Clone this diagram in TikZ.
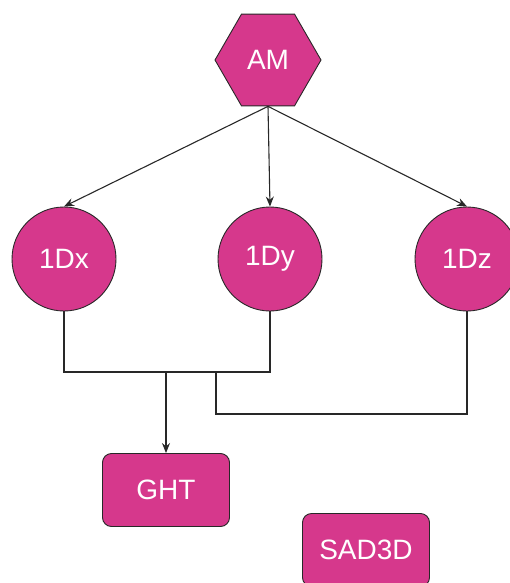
\documentclass[tikz,border=0pt]{standalone}
\usepackage{fontspec}
\setmainfont{Liberation Sans}
\usetikzlibrary{shapes.geometric,arrows.meta}
\definecolor{pinkfill}{RGB}{214,56,140}
\definecolor{edgegray}{RGB}{40,40,40}

\begin{document}
\begin{tikzpicture}[x=1pt,y=-1pt,
  base/.style={draw=edgegray,line width=0.9pt,fill=pinkfill,text=white,
    inner sep=0pt,font=\fontsize{28}{32}\selectfont},
  hexa/.style={base,regular polygon,regular polygon sides=6,minimum size=106pt},
  ball/.style={base,circle,minimum size=104pt},
  tile/.style={base,rounded corners=9pt,minimum width=127pt,minimum height=73pt},
  link/.style={draw=edgegray,line width=1.1pt},
  arr/.style={link,-{Stealth[length=10pt,width=8pt]}}]
\useasboundingbox (0,0) rectangle (509,583);

\node[hexa] (AM) at (268,60) {AM};
\node[ball] (Dx) at (64,259) {1Dx};
\node[ball] (Dy) at (270,259) {1Dy};
\node[ball] (Dz) at (467,259) {1Dz};
\node[tile] (GHT) at (166,490) {GHT};
\node[tile] (SAD) at (366,550) {SAD3D};

\draw[arr] (AM.south) -- (Dx.north);
\draw[arr] (AM.south) -- (Dy.north);
\draw[arr] (AM.south) -- (Dz.north);

\coordinate (join) at (166,372);
\coordinate (low) at (216,414);
\draw[link] (Dx.south) -- (Dx.south |- join) -- (Dy.south |- join) -- (Dy.south);
\draw[link] (Dz.south) -- (Dz.south |- low) -- (low) -- (low |- join);
\draw[arr] (join) -- (GHT.north);
\end{tikzpicture}
\end{document}
